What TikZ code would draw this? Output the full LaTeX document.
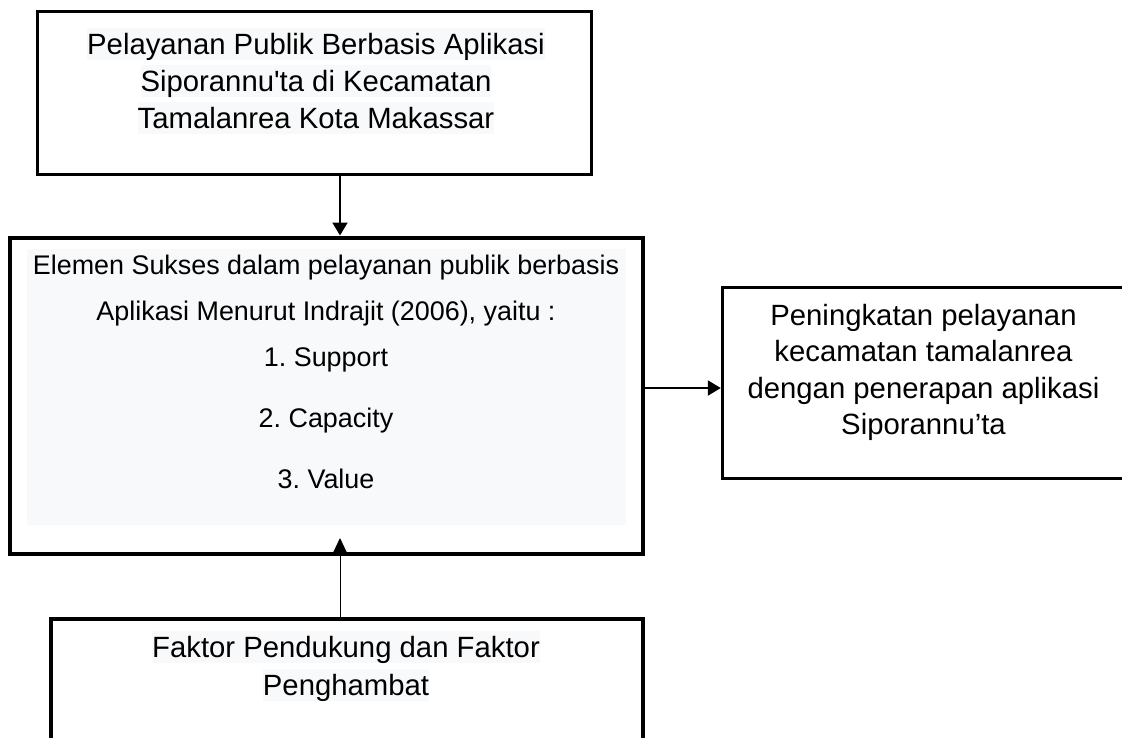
\documentclass[tikz,border=0pt]{standalone}
\usepackage{fontspec}
\setmainfont{Liberation Sans}[Ligatures=TeXOff]
\usetikzlibrary{arrows.meta}
\definecolor{hl}{RGB}{248,249,250}
\frenchspacing
\begin{document}
\begin{tikzpicture}[x=1pt,y=-1pt,
  boxA/.style={draw=black, line width=#1, inner sep=0pt, fill=white},
  bigtxt/.style={font=\fontsize{29.3}{36}\selectfont},
  smalltxt/.style={font=\fontsize{26.9}{33}\selectfont},
  txtline/.style={anchor=base, inner sep=0pt, text height=26.5pt, text depth=6.2pt},
  hline/.style={txtline, fill=hl},
  arr/.style={line width=#1, -{Triangle[length=13pt,width=15pt]}},
  arrthin/.style={line width=1pt, -{Triangle[length=15pt,width=14pt]}},
]
\useasboundingbox (0,0) rectangle (1122,737);
% boxes
\node[boxA=3pt, minimum width=554pt, minimum height=162.7pt] (top) at (314,92.65) {};
\node[boxA=4pt, minimum width=633.5pt, minimum height=316.5pt] (mid) at (326.25,395.75) {};
\node[boxA=3pt, minimum width=403.7pt, minimum height=190.6pt] (res) at (924.15,383) {};
\node[boxA=4pt, minimum width=592pt, minimum height=141.3pt] (bot) at (347,689.35) {};
% shading in middle box
\fill[hl] (27,249) rectangle (626,525);
% top box text
\node[hline, bigtxt] (t1) at (316,54) {Pelayanan Publik Berbasis Aplikasi};
\node[hline, bigtxt] (t2) at (316,91) {Siporannu'ta di Kecamatan};
\node[hline, bigtxt] (t3) at (316,128) {Tamalanrea Kota Makassar};
% middle box text
\node[txtline, smalltxt] (m1) at (326,274) {Elemen Sukses dalam pelayanan publik berbasis};
\node[txtline, smalltxt] (m2) at (326,320) {Aplikasi Menurut Indrajit (2006), yaitu :};
\node[txtline, smalltxt] (m3) at (326,366) {1. Support};
\node[txtline, smalltxt] (m4) at (326,427) {2. Capacity};
\node[txtline, smalltxt] (m5) at (326,488) {3. Value};
% right box text
\node[txtline, bigtxt] (r1) at (923.5,325) {Peningkatan pelayanan};
\node[txtline, bigtxt] (r2) at (923.5,361.5) {kecamatan tamalanrea};
\node[txtline, bigtxt] (r3) at (923.5,398) {dengan penerapan aplikasi};
\node[txtline, bigtxt] (r4) at (923.5,434.5) {Siporannu’ta};
% bottom box text
\node[hline, bigtxt] (b1) at (346,657) {Faktor Pendukung dan Faktor};
\node[hline, bigtxt] (b2) at (346,695) {Penghambat};
% connectors
\coordinate (ax) at (340,0);
\coordinate (ay) at (0,388);
\coordinate (tipb) at (340,538);
\draw[arr=2pt] (top.south -| ax) -- (mid.north -| ax);
\draw[arr=2pt] (mid.east |- ay) -- (res.west |- ay);
\draw[arrthin] (bot.north -| ax) -- (tipb);
\end{tikzpicture}
\end{document}
